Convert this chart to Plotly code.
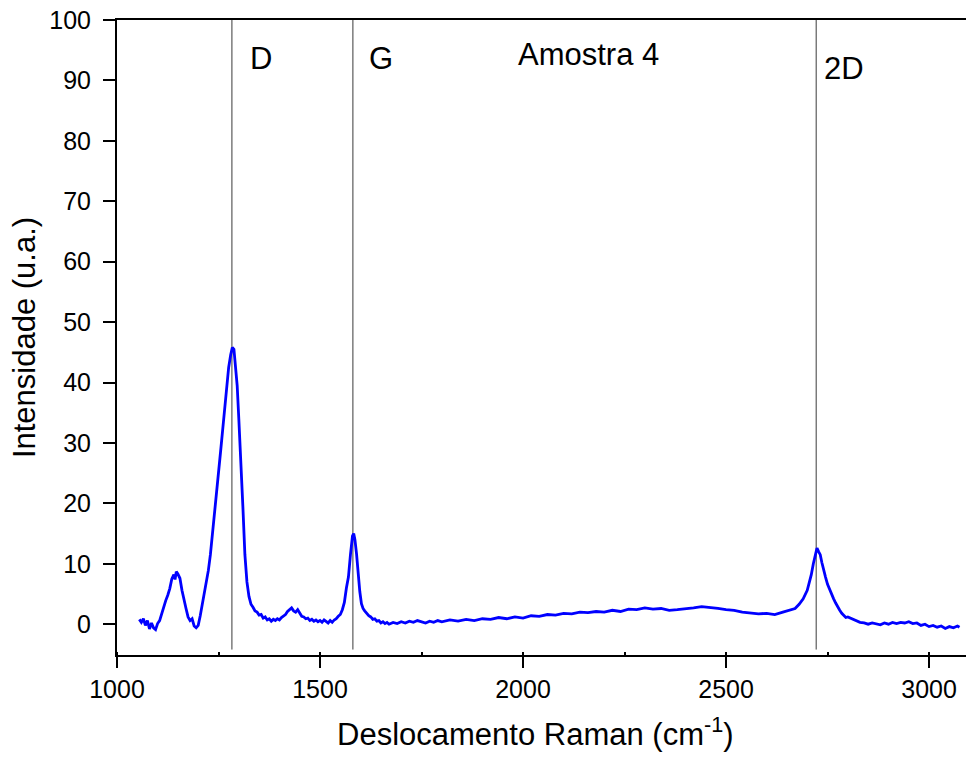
import plotly.graph_objects as go

# Raman spectrum
raman_shift = [
    1055, 1060, 1065, 1070, 1075, 1080, 1085, 1090, 1095, 1100, 1105, 1110, 1115, 1120, 1125, 1130,
    1135, 1140, 1143, 1146, 1150, 1155, 1160, 1165, 1170, 1175, 1180, 1185, 1190, 1195, 1200, 1205,
    1210, 1215, 1220, 1225, 1230, 1235, 1240, 1245, 1250, 1255, 1260, 1265, 1270, 1275, 1280, 1284,
    1288, 1292, 1296, 1300, 1305, 1310, 1315, 1320, 1325, 1330, 1335, 1340, 1345, 1350, 1355, 1360,
    1365, 1370, 1375, 1380, 1385, 1390, 1395, 1400, 1405, 1410, 1415, 1420, 1425, 1430, 1435, 1440,
    1445, 1450, 1455, 1460, 1465, 1470, 1475, 1480, 1485, 1490, 1495, 1500, 1505, 1510, 1515, 1520,
    1525, 1530, 1535, 1540, 1545, 1550, 1555, 1560, 1565, 1570, 1575, 1580, 1583, 1586, 1590, 1594,
    1598, 1602, 1606, 1610, 1615, 1620, 1625, 1630, 1635, 1640, 1645, 1650, 1655, 1660, 1665, 1670,
    1680, 1690, 1700, 1710, 1720, 1730, 1740, 1750, 1760, 1770, 1780, 1790, 1800, 1820, 1840, 1860,
    1880, 1900, 1920, 1940, 1960, 1980, 2000, 2020, 2040, 2060, 2080, 2100, 2120, 2140, 2160, 2180,
    2200, 2220, 2240, 2260, 2280, 2300, 2320, 2340, 2360, 2380, 2400, 2420, 2440, 2460, 2480, 2500,
    2520, 2540, 2560, 2580, 2600, 2620, 2640, 2660, 2670, 2680, 2690, 2700, 2705, 2710, 2715, 2720,
    2724, 2728, 2732, 2736, 2740, 2745, 2750, 2755, 2760, 2765, 2770, 2775, 2780, 2785, 2790, 2795,
    2800, 2810, 2820, 2830, 2840, 2850, 2860, 2870, 2880, 2890, 2900, 2910, 2920, 2930, 2940, 2950,
    2960, 2970, 2980, 2990, 3000, 3010, 3020, 3030, 3040, 3050, 3060, 3070, 3075,
]
intensity = [
    0.8, 0.3, 0.9, -0.2, 0.6, -0.8, 0.2, -0.6, -0.9, 0.1, 0.6, 1.8, 2.6, 3.9, 4.8, 5.9,
    7.5, 8.2, 7.4, 8.7, 8.3, 7.6, 5.6, 3.9, 2.6, 1.2, 0.6, 0.9, -0.3, -0.6, -0.2, 1.4,
    3.2, 4.9, 6.8, 8.9, 11.5, 14.8, 17.5, 21.2, 25.0, 28.5, 32.0, 35.6, 39.0, 42.5, 44.6, 45.8,
    45.5, 43.0, 39.5, 34.0, 27.5, 19.5, 11.5, 7.0, 4.6, 3.3, 2.8, 2.2, 2.0, 1.5, 1.6, 1.0,
    1.2, 0.7, 0.9, 0.5, 0.8, 0.6, 0.9, 0.7, 1.1, 1.4, 1.6, 2.1, 2.4, 2.7, 2.2, 2.0,
    2.4, 1.9, 1.3, 1.2, 0.9, 1.0, 0.6, 0.8, 0.5, 0.7, 0.4, 0.6, 0.3, 0.7, 0.5, 0.2,
    0.6, 0.3, 0.7, 0.9, 1.3, 1.6, 2.4, 3.6, 6.0, 7.8, 11.5, 14.6, 15.0, 14.0, 11.6, 8.2,
    5.4, 3.4, 2.6, 2.2, 1.8, 1.4, 1.2, 0.8, 0.9, 0.5, 0.6, 0.2, 0.4, 0.1, 0.3, 0.0,
    0.3, 0.1, 0.4, 0.2, 0.5, 0.3, 0.6, 0.4, 0.2, 0.5, 0.3, 0.6, 0.4, 0.7, 0.5, 0.8,
    0.6, 0.9, 0.8, 1.1, 0.9, 1.2, 1.0, 1.4, 1.3, 1.6, 1.5, 1.8, 1.7, 2.0, 1.9, 2.1,
    2.0, 2.3, 2.1, 2.5, 2.4, 2.7, 2.5, 2.6, 2.3, 2.4, 2.5, 2.7, 2.9, 2.8, 2.6, 2.4,
    2.3, 2.0, 1.9, 1.7, 1.8, 1.6, 2.0, 2.4, 2.6, 3.3, 4.2, 5.6, 6.8, 8.2, 10.0, 11.8,
    12.6, 12.0, 11.5, 10.2, 9.0, 7.8, 6.6, 5.7, 5.0, 4.2, 3.5, 2.8, 2.3, 1.8, 1.5, 1.1,
    1.2, 0.9, 0.6, 0.3, 0.2, 0.0, 0.2, 0.1, -0.1, 0.2, 0.0, 0.3, 0.1, 0.3, 0.2, 0.4,
    0.1, 0.2, -0.2, 0.0, -0.4, -0.2, -0.5, -0.3, -0.7, -0.4, -0.6, -0.3, -0.5,
]

# Band markers
band_labels = ["D", "G", "2D"]
band_positions = [1283, 1581, 2722]
band_line_bottom = -4.2
band_line_top = 100

sample_label = "Amostra 4"
x_title = "Deslocamento Raman (cm<sup>-1</sup>)"
y_title = "Intensidade (u.a.)"
x_ticks = [1000, 1500, 2000, 2500, 3000]
y_ticks = [0, 10, 20, 30, 40, 50, 60, 70, 80, 90, 100]

FONT = "Arial, Liberation Sans, sans-serif"

fig = go.Figure()

for pos in band_positions:
    fig.add_trace(go.Scatter(
        x=[pos, pos], y=[band_line_bottom, band_line_top], mode="lines",
        line=dict(color="#3a3a3a", width=1), showlegend=False, hoverinfo="skip"))

fig.add_trace(go.Scatter(
    x=raman_shift, y=intensity, mode="lines",
    line=dict(color="#0000FF", width=2.8), showlegend=False))

label_shift = [16, 14, 6]
label_y = [0.940, 0.940, 0.924]
for lab, pos, dx, yy in zip(band_labels, band_positions, label_shift, label_y):
    fig.add_annotation(x=pos, y=yy, xref="x", yref="paper", text=lab, showarrow=False,
                       xanchor="left", yanchor="middle", xshift=dx,
                       font=dict(family=FONT, size=31, color="black"))

fig.add_annotation(x=2161, y=0.945, xref="x", yref="paper", text=sample_label, showarrow=False,
                   xanchor="center", yanchor="middle",
                   font=dict(family=FONT, size=31, color="black"))

# x-axis title placed as paper annotation (matches reference position)
fig.add_annotation(x=0.5, y=-0.121, xref="paper", yref="paper", text=x_title, showarrow=False,
                   xanchor="center", yanchor="middle", xshift=-6,
                   font=dict(family=FONT, size=31, color="black"))

fig.update_layout(
    width=966, height=760,
    margin=dict(l=117, r=0, t=20, b=105),
    paper_bgcolor="white", plot_bgcolor="white",
    font=dict(family=FONT, color="black"),
    xaxis=dict(
        range=[1000, 3091], tickvals=x_ticks, ticks="outside", ticklen=11, tickwidth=2,
        tickcolor="black", showline=True, linecolor="black", linewidth=2, mirror=True,
        showgrid=False, zeroline=False, tickfont=dict(size=25, family=FONT),
        minor=dict(dtick=250, tick0=1000, ticks="inside", ticklen=3, tickwidth=1.5, tickcolor="black"),
    ),
    yaxis=dict(
        range=[-5.1, 100], tickvals=y_ticks, ticks="outside", ticklen=12, tickwidth=2,
        tickcolor="black", showline=True, linecolor="black", linewidth=2, mirror=False,
        showgrid=False, zeroline=False, tickfont=dict(size=25, family=FONT),
        ticklabelstandoff=7,
        title=dict(text=y_title, font=dict(size=31, family=FONT), standoff=4),
    ),
)

fig.write_html("out.html")
